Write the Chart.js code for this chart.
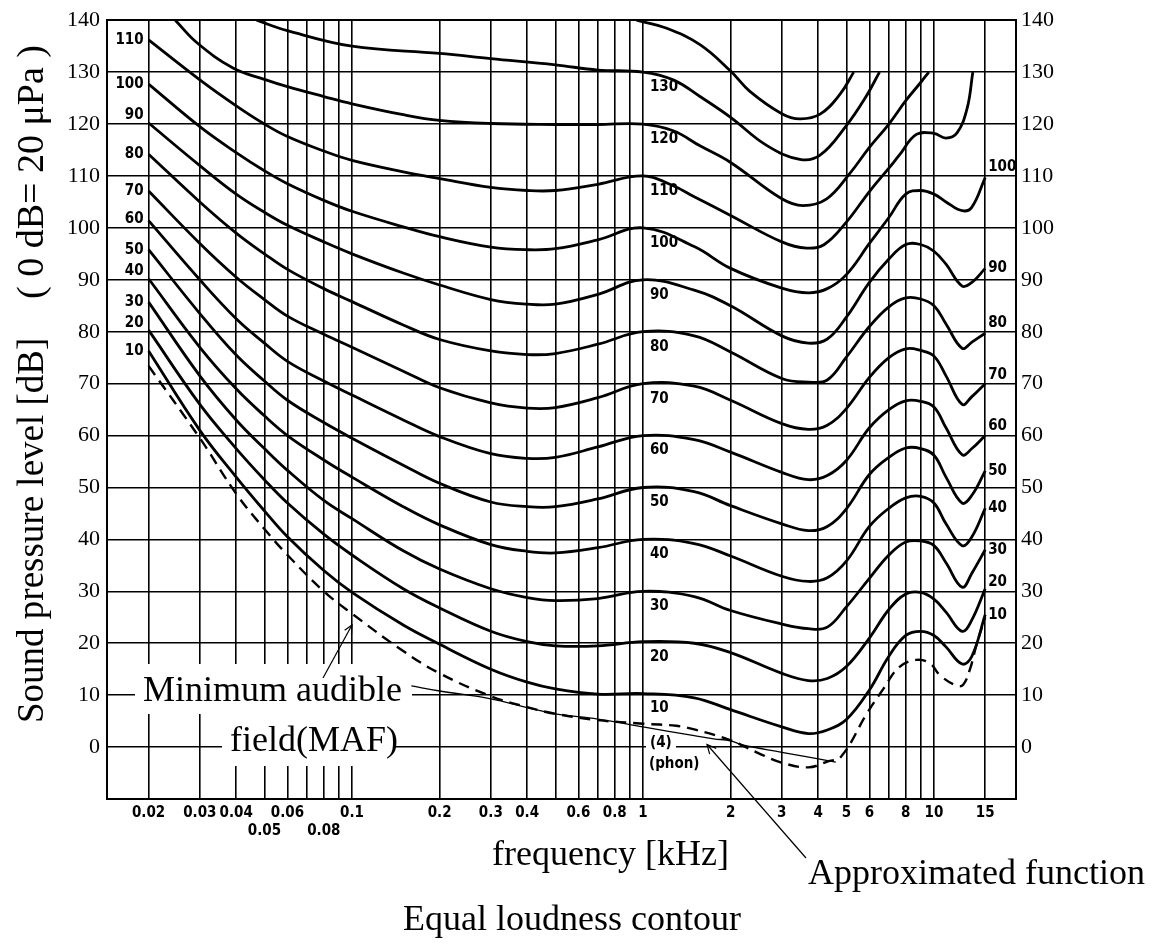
<!DOCTYPE html>
<html>
<head>
<meta charset="utf-8">
<title>Equal loudness contour</title>
<script src="https://cdn.jsdelivr.net/npm/chart.js@4.4.1/dist/chart.umd.min.js"></script>
<style>
    html, body { margin: 0; padding: 0; background: #fff; }
    #wrap { width: 1167px; height: 944px; }
</style>
</head>
<body>
<div id="wrap"><canvas id="elc" width="1167" height="944"></canvas></div>
<script>
// Frequency grid (kHz): every line drawn, and which get a label (upper / lower row)
const freqGrid = [0.02, 0.03, 0.04, 0.05, 0.06, 0.07, 0.08, 0.09, 0.1,
    0.2, 0.3, 0.4, 0.5, 0.6, 0.7, 0.8, 0.9, 1, 2, 3, 4, 5, 6, 7, 8, 9, 10, 15];
const freqLabelsUpper = [0.02, 0.03, 0.04, 0.06, 0.1, 0.2, 0.3, 0.4, 0.6, 0.8, 1, 2, 3, 4, 5, 6, 8, 10, 15];
const freqLabelsLower = [0.05, 0.08];

// Sound pressure level ticks (dB)
const splTicks = [-10, 0, 10, 20, 30, 40, 50, 60, 70, 80, 90, 100, 110, 120, 130, 140];

// Sample frequencies shared by the 10..100 phon contours
const sampleFreqs = [0.02, 0.03, 0.04, 0.05, 0.06, 0.08, 0.1, 0.15, 0.2, 0.3, 0.4, 0.5, 0.7, 1,
    1.5, 2, 3, 3.7, 4.3, 5, 6, 7, 8, 9, 10, 11, 12.5, 13.5, 15];

const phon10 = [76.3, 61, 52, 45.5, 40.5, 34, 29.8, 23.5, 19.8, 15, 12.5, 11.2, 10.2, 10.3,
    9.5, 7.2, 3.9, 2.6, 3.3, 5.3, 11, 17.5, 21.5, 22.3, 21.5, 19.3, 16, 17.5, 25.5];
const phon20 = [80.3, 66, 57.5, 51.5, 47, 41, 37, 30.5, 26.8, 22.3, 20.3, 19.5, 19.5, 20.3,
    20, 18.2, 14.2, 12.8, 13.2, 15.5, 21, 26.5, 29.5, 29.8, 28.5, 26, 22.3, 24.5, 30.5];
const phon30 = [85.7, 71.5, 63, 57.5, 53.3, 47.5, 44, 37.8, 34.3, 30.5, 28.8, 28.2, 28.6, 30,
    29, 26.3, 23.7, 22.8, 23.1, 27, 32.5, 37, 39.5, 39.7, 38.8, 35.5, 30.8, 33.5, 38];
const phon40 = [90.2, 77, 69, 63.8, 60, 55.3, 52, 46.3, 42.8, 39, 37.7, 37.4, 38.4, 40,
    39.2, 36.8, 32.9, 31.9, 32.6, 35.8, 42.5, 46, 48, 48.3, 47, 43, 38.8, 40.5, 46];
const phon50 = [95.8, 83.5, 75.5, 70.5, 66.8, 62.5, 59.5, 54.3, 50.8, 47.2, 46.3, 46.3, 47.8, 50,
    49.2, 46.5, 43, 41.7, 42.5, 45.9, 52.5, 55.8, 57.6, 57.5, 56.2, 52, 47, 48.5, 53.2];
const phon60 = [101.4, 90, 82.5, 77.8, 74.3, 70.5, 67.8, 63, 59.8, 56.5, 55.6, 55.8, 57.8, 60,
    59.2, 56.8, 52.9, 51.5, 52.3, 55.2, 61.5, 65, 66.7, 66.6, 65.5, 61.5, 56.3, 57.5, 60];
const phon70 = [107.1, 97, 90.5, 86.2, 83, 79.5, 77, 72.4, 69.2, 66.3, 65.3, 65.4, 67.3, 70,
    69.5, 66.8, 62.3, 61.2, 62, 65.2, 71.2, 75, 76.7, 76.4, 75.3, 71.5, 66, 67.5, 70];
const phon80 = [114.2, 105, 99, 95, 92, 88.3, 85.8, 81.3, 78.5, 76.3, 75.6, 75.8, 77.6, 80,
    79.2, 76.1, 71, 70.3, 70.7, 75.1, 81, 84.8, 86.5, 86.3, 85, 81.5, 76.8, 78, 79.7];
const phon90 = [120.2, 112, 106.5, 103, 100.5, 97.3, 95, 91.3, 89, 86.2, 85.3, 85.3, 87.2, 90,
    88, 85, 79.2, 77.8, 78.6, 82.8, 89.5, 94, 96.8, 96.8, 95.5, 93, 88.8, 89.5, 92.2];
const phon100 = [127.7, 119.5, 114.5, 111, 108.5, 105.3, 103.2, 100.2, 98.3, 96.3, 95.8, 96, 97.7, 100,
    96.4, 92.2, 88.4, 87.5, 88.3, 91, 97, 102, 106.5, 107.2, 106.5, 105, 103.3, 104, 109.7];

// Upper contours leave the 140 dB frame, so they carry their own [kHz, dB] points
const phon110 = [[0.02, 136.2], [0.03, 128.5], [0.04, 123.5], [0.05, 120], [0.06, 117.6], [0.08, 114.8],
    [0.1, 113], [0.15, 110.8], [0.2, 109.5], [0.3, 107.8], [0.4, 107.2], [0.5, 107.2], [0.7, 108.4],
    [1, 110], [1.27, 108.1], [1.5, 106], [2, 102.4], [3, 97.3], [3.65, 96.1], [4.2, 96.8],
    [5, 101.1], [6, 107], [7, 111.5], [7.6, 114], [8.7, 118], [10, 118.2], [11, 117.3],
    [12, 118.3], [13, 123], [13.6, 130]];
const phon120 = [[0.0247, 140], [0.0294, 135.6], [0.039, 130.8], [0.05, 128.6], [0.06, 127.2],
    [0.08, 125.3], [0.1, 123.9], [0.15, 121.8], [0.2, 120.7], [0.3, 120.1], [0.5, 119.9],
    [0.7, 119.9], [1, 120], [1.27, 118.7], [1.57, 115.8], [2, 112.6], [3, 105.6], [3.55, 104.3],
    [4.28, 105.6], [5.14, 110.5], [6, 115.5], [7, 120], [8, 124.5], [9, 128], [9.6, 130]];
const phon130 = [[0.047, 140], [0.06, 138], [0.1, 135], [0.2, 133.6], [0.3, 132.6], [0.5, 131.4],
    [0.7, 130.4], [1, 130], [1.27, 128.5], [1.57, 125.3], [2, 121.3], [2.66, 115.9],
    [3.46, 113.2], [4.06, 114], [5, 119.7], [5.8, 125], [6.5, 130]];
const phon140 = [[0.95, 140], [1.2, 138.5], [1.57, 135.3], [2, 130.2], [2.33, 126.3], [3, 122],
    [3.46, 121], [4.06, 121.9], [4.75, 125.7], [5.3, 130]];

// Minimum audible field (dashed) and its approximated function (thin line)
const mafCurve = [[0.02, 73.4], [0.03, 59.5], [0.04, 48.8], [0.05, 42], [0.06, 37], [0.08, 30],
    [0.1, 25.7], [0.15, 18.5], [0.2, 14.2], [0.3, 9.8], [0.4, 7.7], [0.5, 6.4], [0.7, 5.2],
    [1, 4.5], [1.3, 4.1], [1.5, 3.4], [2, 1.3], [2.5, -1.2], [3, -3], [3.7, -3.9], [4.3, -2.8],
    [4.8, -1.8], [5.9, 6.6], [6.7, 11.2], [7.6, 15.4], [8.7, 16.8], [9.7, 16.1], [10.5, 13.8],
    [12, 11.8], [12.6, 12], [13.3, 15], [14, 19.7], [15, 25]];
const approxCurve = [[0.16, 11.8], [0.2, 10.8], [0.3, 9.3], [0.4, 7.6], [0.5, 6.4], [0.7, 5.4],
    [1, 3.9], [1.5, 2.2], [1.75, 1.6], [2, 1.2], [2.2, 0.4], [3, -1], [4.6, -2.9]];

const zipFreqs = levels => sampleFreqs.map((f, i) => [f, levels[i]]);

const contours = [
    { phon: 10, pts: zipFreqs(phon10) },
    { phon: 20, pts: zipFreqs(phon20) },
    { phon: 30, pts: zipFreqs(phon30) },
    { phon: 40, pts: zipFreqs(phon40) },
    { phon: 50, pts: zipFreqs(phon50) },
    { phon: 60, pts: zipFreqs(phon60) },
    { phon: 70, pts: zipFreqs(phon70) },
    { phon: 80, pts: zipFreqs(phon80) },
    { phon: 90, pts: zipFreqs(phon90) },
    { phon: 100, pts: zipFreqs(phon100) },
    { phon: 110, pts: phon110 },
    { phon: 120, pts: phon120 },
    { phon: 130, pts: phon130 },
    { phon: 140, pts: phon140 }
];

const toXY = pts => pts.map(p => ({ x: p[0], y: p[1] }));

const datasets = contours.map(c => ({
    label: c.phon + ' phon',
    data: toXY(c.pts),
    borderColor: '#000',
    borderWidth: 2.8,
    pointRadius: 0,
    fill: false,
    tension: 0.4
}));
datasets.push({
    label: 'MAF',
    data: toXY(mafCurve),
    borderColor: '#000',
    borderWidth: 2.4,
    borderDash: [11, 7],
    pointRadius: 0,
    fill: false,
    tension: 0.4
});
datasets.push({
    label: 'Approximated function',
    data: toXY(approxCurve),
    borderColor: '#000',
    borderWidth: 1.3,
    pointRadius: 0,
    fill: false,
    tension: 0.4
});

const serif = '"Liberation Serif", "Times New Roman", serif';
const narrow = '"DejaVu Sans Condensed", "DejaVu Sans", sans-serif';

// white patches behind the in-plot captions, so grid lines stop at the text
const textMasks = {
    id: 'textMasks',
    beforeDatasetsDraw(chart) {
        const ctx = chart.ctx;
        ctx.save();
        ctx.fillStyle = '#fff';
        ctx.fillRect(135, 664, 277, 50);
        ctx.fillRect(222, 714, 173, 52);
        ctx.fillRect(646, 735, 30, 22);
        ctx.restore();
    }
};

function arrowHead(ctx, x0, y0, x1, y1, size) {
    const a = Math.atan2(y1 - y0, x1 - x0);
    ctx.beginPath();
    ctx.moveTo(x1 - size * Math.cos(a - 0.45), y1 - size * Math.sin(a - 0.45));
    ctx.lineTo(x1, y1);
    ctx.lineTo(x1 - size * Math.cos(a + 0.45), y1 - size * Math.sin(a + 0.45));
    ctx.stroke();
}

const annotations = {
    id: 'annotations',
    afterDatasetsDraw(chart) {
        const { ctx, scales: { x, y } } = chart;
        const gridPix = splTicks.map(v => y.getPixelForValue(v));
        // keep a label off the horizontal grid lines
        const clearOfGrid = py => {
            for (const g of gridPix) {
                if (Math.abs(py - g) < 8) return g - 9;
            }
            return py;
        };

        ctx.save();
        ctx.fillStyle = '#000';
        ctx.strokeStyle = '#000';
        ctx.font = 'bold 15px ' + narrow;
        ctx.textBaseline = 'middle';

        contours.forEach(c => {
            const first = c.pts[0];
            const last = c.pts[c.pts.length - 1];
            const at1k = c.pts.find(p => p[0] === 1);
            if (at1k && c.phon <= 130) {
                ctx.textAlign = 'left';
                ctx.fillText(String(c.phon), x.getPixelForValue(1) + 7, y.getPixelForValue(at1k[1]) + 15);
            }
            if (first[0] === 0.02) {
                ctx.textAlign = 'right';
                ctx.fillText(String(c.phon), x.getPixelForValue(0.02) - 5, clearOfGrid(y.getPixelForValue(first[1])));
            }
            if (last[0] === 15) {
                ctx.textAlign = 'left';
                ctx.fillText(String(c.phon), x.getPixelForValue(15) + 3, clearOfGrid(y.getPixelForValue(last[1])));
            }
        });

        // threshold tag at 1 kHz
        const maf1k = mafCurve.find(p => p[0] === 1)[1];
        ctx.textAlign = 'left';
        ctx.fillText('(4)', x.getPixelForValue(1) + 7, y.getPixelForValue(maf1k) + 19);
        ctx.fillText('(phon)', x.getPixelForValue(1) + 6, y.getPixelForValue(maf1k) + 40);

        // captions
        ctx.font = '36px ' + serif;
        ctx.textBaseline = 'alphabetic';
        ctx.fillText('Minimum audible', 143, 701);
        ctx.fillText('field(MAF)', 230, 751);
        ctx.fillText('frequency [kHz]', 492, 865);
        ctx.fillText('Approximated function', 808, 884);
        ctx.fillText('Equal loudness contour', 403, 930);

        // leader lines
        ctx.lineWidth = 1.2;
        const mx = x.getPixelForValue(0.1), my = y.getPixelForValue(23.5);
        ctx.beginPath();
        ctx.moveTo(323, 678);
        ctx.lineTo(mx, my);
        ctx.stroke();
        arrowHead(ctx, 323, 678, mx, my, 9);

        const ax = x.getPixelForValue(1.66), ay = y.getPixelForValue(0.5);
        ctx.beginPath();
        ctx.moveTo(806, 858);
        ctx.lineTo(ax, ay);
        ctx.stroke();
        arrowHead(ctx, 806, 858, ax, ay, 10);

        // vertical axis title
        ctx.font = '37px ' + serif;
        ctx.save();
        ctx.translate(43, 723);
        ctx.rotate(-Math.PI / 2);
        ctx.textAlign = 'left';
        ctx.fillText('Sound pressure level [dB]', 0, 0);
        ctx.restore();
        ctx.font = '38px ' + serif;
        ctx.save();
        ctx.translate(43, 45);
        ctx.rotate(-Math.PI / 2);
        ctx.textAlign = 'right';
        ctx.fillText('( 0 dB= 20 \u03bcPa )', 0, 0);
        ctx.restore();

        ctx.restore();
    }
};

const yTickLabel = v => (v < 0 ? '' : String(v));

new Chart(document.getElementById('elc'), {
    type: 'line',
    data: { datasets },
    options: {
        responsive: false,
        animation: false,
        devicePixelRatio: 1,
        layout: { padding: { top: 19, left: 0, right: 0, bottom: 0 } },
        plugins: {
            legend: { display: false },
            tooltip: { enabled: false }
        },
        scales: {
            x: {
                type: 'logarithmic',
                position: 'bottom',
                min: 0.01439,
                max: 19.14,
                afterBuildTicks: s => { s.ticks = freqGrid.map(v => ({ value: v })); },
                afterFit: s => { s.height = 145; },
                grid: { color: '#000', lineWidth: 1.6, drawTicks: false },
                border: { color: '#000', width: 2 },
                ticks: {
                    autoSkip: false,
                    maxRotation: 0,
                    padding: 5,
                    color: '#000',
                    font: { family: narrow, size: 15, weight: 'bold' },
                    callback: v => {
                        if (freqLabelsUpper.includes(v)) return String(v);
                        if (freqLabelsLower.includes(v)) return ['', String(v)];
                        return '';
                    }
                }
            },
            y: {
                min: -10,
                max: 140,
                afterBuildTicks: s => { s.ticks = splTicks.map(v => ({ value: v })); },
                afterFit: s => { s.width = 107; },
                grid: {
                    color: '#000',
                    lineWidth: c => (c.tick && c.tick.value === 140 ? 2 : 1.6),
                    drawTicks: false
                },
                border: { color: '#000', width: 2 },
                ticks: {
                    padding: 7,
                    color: '#000',
                    font: { family: serif, size: 22 },
                    callback: yTickLabel
                }
            },
            y2: {
                position: 'right',
                min: -10,
                max: 140,
                afterBuildTicks: s => { s.ticks = splTicks.map(v => ({ value: v })); },
                afterFit: s => { s.width = 151; },
                grid: { display: false, drawTicks: false },
                border: { color: '#000', width: 2 },
                ticks: {
                    padding: 5,
                    color: '#000',
                    font: { family: serif, size: 22 },
                    callback: yTickLabel
                }
            }
        }
    },
    plugins: [textMasks, annotations]
});
</script>
</body>
</html>
